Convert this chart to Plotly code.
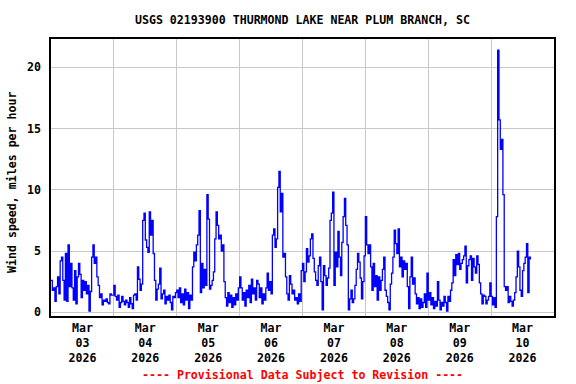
import plotly.graph_objects as go
import pandas as pd

# Half-hourly wind speed readings (mph), starting 2026-03-03 00:00
mar03 = [2.6, 1.8, 2.0, 0.9, 2.1, 2.9, 1.5, 4.2, 4.5, 2.6,
         1.0, 4.8, 0.9, 5.5, 2.1, 4.0, 2.0, 1.0, 3.4, 0.7,
         2.9, 4.0, 3.1, 1.2, 2.6, 1.8, 2.5, 1.5, 2.2, 0.1,
         1.7, 4.5, 5.5, 4.0, 4.5, 2.9, 2.2, 1.2, 1.5, 0.6,
         1.0, 0.9, 1.1, 0.8, 0.7, 1.5, 1.4, 1.4]
mar04 = [2.2, 1.3, 1.0, 1.4, 0.4, 0.8, 1.3, 0.9, 0.6, 1.0,
         0.8, 0.4, 1.2, 0.7, 0.3, 1.4, 1.5, 1.0, 3.7, 2.7,
         1.8, 2.3, 7.5, 8.1, 5.9, 5.3, 4.9, 8.2, 6.3, 7.5,
         4.8, 2.6, 1.0, 1.9, 2.3, 3.6, 1.1, 1.5, 1.8, 0.7,
         1.3, 1.0, 1.4, 0.8, 0.2, 1.3, 1.2, 1.6]
mar05 = [1.8, 1.2, 2.0, 0.8, 1.5, 0.6, 1.9, 1.0, 1.6, 0.3,
         1.4, 1.0, 3.7, 4.9, 4.2, 5.5, 6.3, 8.3, 1.6, 4.0,
         2.0, 3.5, 2.2, 9.6, 7.6, 1.9, 2.2, 2.6, 3.3, 6.0,
         8.2, 7.1, 6.0, 6.3, 5.0, 5.5, 2.5, 1.2, 0.5, 1.6,
         0.8, 1.4, 0.4, 1.2, 0.6, 1.5, 1.0, 2.0]
mar06 = [2.9, 2.0, 1.0, 1.6, 0.5, 1.8, 1.2, 2.2, 0.8, 2.7,
         1.5, 2.0, 1.0, 2.6, 2.3, 1.2, 2.0, 0.7, 1.5, 1.0,
         2.0, 3.2, 1.8, 2.5, 1.5, 6.3, 6.8, 5.3, 6.0, 10.2,
         11.5, 8.2, 9.7, 4.5, 4.8, 2.9, 1.5, 1.0, 3.0, 2.3,
         1.5, 1.8, 1.0, 1.2, 0.7, 1.5, 0.9, 3.4]
mar07 = [4.0, 2.5, 3.3, 5.2, 4.1, 4.6, 6.0, 6.4, 4.4, 3.3,
         2.6, 2.2, 3.8, 4.5, 2.5, 0.2, 3.8, 3.0, 2.2, 2.8,
         3.6, 7.5, 8.1, 9.8, 2.2, 4.9, 3.7, 6.6, 4.5, 3.0,
         5.7, 7.8, 9.3, 7.1, 5.5, 0.2, 1.1, 1.8, 0.8, 1.1,
         2.2, 3.5, 4.8, 4.1, 2.8, 1.1, 2.5, 4.6]
mar08 = [7.8, 5.5, 4.8, 5.5, 3.7, 1.8, 4.0, 2.1, 3.0, 1.0,
         2.9, 1.8, 2.6, 3.5, 4.5, 1.8, 1.3, 0.8, 0.2, 2.3,
         3.2, 4.5, 6.7, 5.6, 4.8, 6.8, 3.7, 4.5, 2.9, 4.2,
         3.5, 4.0, 2.1, 0.3, 2.9, 4.5, 2.3, 2.8, 1.5, 0.7,
         1.2, 0.3, 1.1, 0.4, 0.8, 1.5, 0.4, 3.2]
mar09 = [1.0, 1.6, 0.6, 1.2, 0.3, 0.9, 0.5, 2.5, 1.0, 0.2,
         0.8, 0.5, 1.3, 0.8, 0.1, 1.3, 0.9, 1.8, 2.4, 4.3,
         3.0, 4.7, 3.9, 4.8, 3.5, 4.0, 4.3, 4.6, 5.4, 2.4,
         3.8, 4.3, 4.6, 2.6, 4.4, 3.7, 3.2, 4.6, 3.9, 2.4,
         1.5, 0.7, 1.4, 1.3, 0.7, 1.0, 1.3, 2.4]
mar10 = [1.3, 0.6, 1.2, 0.4, 7.8, 21.4, 15.7, 13.3, 14.1, 9.6,
         2.1, 1.8, 2.1, 0.8, 1.3, 0.9, 0.5, 1.0, 1.6, 2.9,
         5.0, 3.7, 1.8, 1.3, 3.4, 4.0, 4.5, 5.6, 1.6, 4.5, 4.3]

speeds = mar03 + mar04 + mar05 + mar06 + mar07 + mar08 + mar09 + mar10
times = pd.date_range("2026-03-03 00:00", periods=len(speeds), freq="30min")

day_labels = ["Mar<br>03<br>2026", "Mar<br>04<br>2026", "Mar<br>05<br>2026",
              "Mar<br>06<br>2026", "Mar<br>07<br>2026", "Mar<br>08<br>2026",
              "Mar<br>09<br>2026", "Mar<br>10<br>2026"]
label_times = pd.date_range("2026-03-03 12:00", periods=8, freq="D")
midnights = pd.date_range("2026-03-03 00:00", periods=9, freq="D")
y_ticks = [0, 5, 10, 15, 20]

FONT = "DejaVu Sans Mono"

fig = go.Figure()
fig.add_trace(go.Scatter(x=times, y=speeds, mode="lines",
                         line=dict(color="#0000FF", width=1.3, shape="hv"),
                         showlegend=False))

fig.update_layout(
    width=576, height=384,
    margin=dict(l=51, r=22, t=39, b=68),
    paper_bgcolor="white", plot_bgcolor="white",
    font=dict(family=FONT, size=11.6, color="black"),
    title=dict(text="<b>USGS 02193900 THURMOND LAKE NEAR PLUM BRANCH, SC</b>",
               x=0.5, xref="paper", xanchor="center",
               y=1 - 20 / 384, yref="container", yanchor="middle",
               font=dict(family=FONT, size=11.6, color="black")),
    xaxis=dict(range=[midnights[0], midnights[-1]],
               tickmode="array", tickvals=label_times,
               ticktext=["<b>" + t.replace("<br>", "</b><br><b>") + "</b>" for t in day_labels],
               showgrid=False, ticks="", ticklen=0,
               showline=True, linecolor="black", linewidth=1.5, mirror=True,
               zeroline=False,
               minor=dict(tickvals=midnights, showgrid=True,
                          gridcolor="#c8c8c8", gridwidth=1, ticks=""),
               tickfont=dict(family=FONT, size=11.6, color="black")),
    yaxis=dict(range=[-0.3, 22.3],
               tickmode="array", tickvals=y_ticks,
               ticktext=["<b>%d</b>" % v for v in y_ticks],
               showgrid=True, gridcolor="#c8c8c8", gridwidth=1,
               ticks="outside", ticklen=6, tickcolor="rgba(0,0,0,0)",
               showline=True, linecolor="black", linewidth=1.5, mirror=True,
               zeroline=False,
               tickfont=dict(family=FONT, size=11.6, color="black")),
    annotations=[
        dict(text="<b>Wind speed, miles per hour</b>", textangle=-90,
             xref="paper", yref="paper",
             x=(11.5 - 51) / 503, y=(316 - 182.5) / 277,
             xanchor="center", yanchor="middle", showarrow=False,
             font=dict(family=FONT, size=11.6, color="black")),
        dict(text="<b>---- Provisional Data Subject to Revision ----</b>",
             xref="paper", yref="paper",
             x=0.5, y=-(375 - 316) / 277,
             xanchor="center", yanchor="middle", showarrow=False,
             font=dict(family=FONT, size=11.6, color="red")),
    ],
)

fig.write_html("out.html", config={"displayModeBar": False},
               post_script="document.body.style.margin='0';document.body.style.overflow='hidden';")
